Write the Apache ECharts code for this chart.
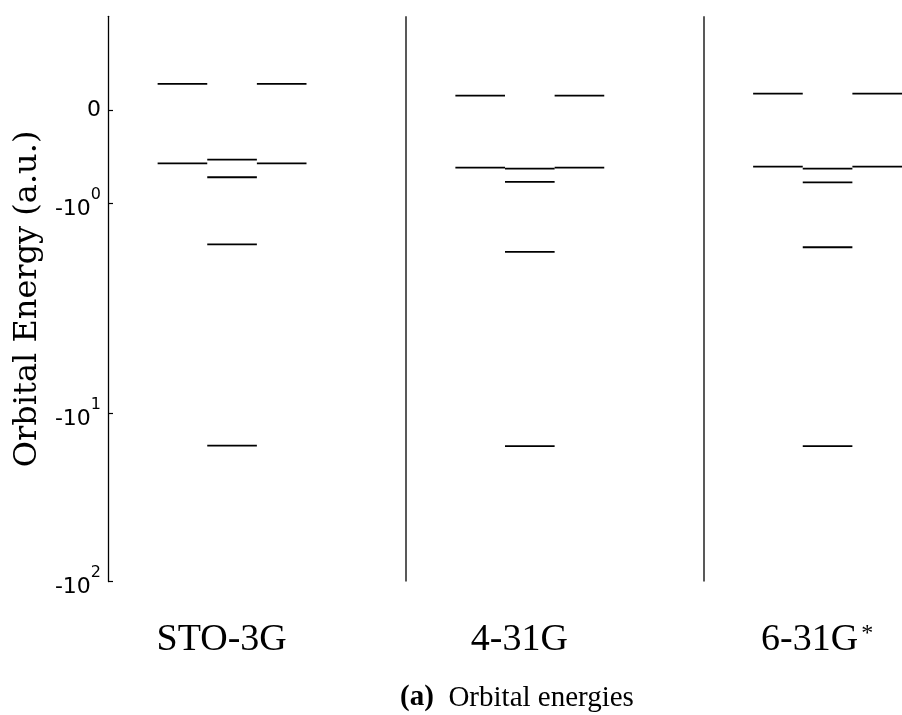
<!DOCTYPE html>
<html>
<head>
<meta charset="utf-8">
<script src="https://cdn.jsdelivr.net/npm/echarts@6/dist/echarts.min.js"></script>
<style>
  html, body { margin: 0; padding: 0; background: #fff; }
  #chart { width: 902px; height: 715px; }
</style>
</head>
<body>
<div id="chart"></div>
<script>
// Basis sets, one column each
const basisSets = ['STO-3G', '4-31G', '6-31G*'];
// Fragment orbital energies (a.u.), drawn at the left and right of each column
const fragmentLevels = [
  [0.277, -0.571],
  [0.152, -0.618],
  [0.173, -0.607]
];
// Molecular orbital energies (a.u.), drawn in the centre of each column
const moleculeLevels = [
  [-0.532, -0.720, -1.564, -15.5],
  [-0.628, -0.770, -1.701, -15.6],
  [-0.628, -0.774, -1.616, -15.6]
];
// Y tick values and their labels (base, exponent)
const yTickValues = [0, -1, -10, -100];
const yTickLabels = [['0', ''], ['-10', '0'], ['-10', '1'], ['-10', '2']];

// Symmetric log scale: linear core within |E| <= 1, then logarithmic decades
const LIN_SPAN = 0.445;          // axis units taken by 0..1
const DECADE_SPANS = [1, 0.798]; // axis units taken by 1..10 and 10..100
function toAxis(E) {
  const s = Math.sign(E), a = Math.abs(E);
  if (a <= 1) return E * LIN_SPAN;
  let u = LIN_SPAN, lo = 1;
  for (const d of DECADE_SPANS) {
    const hi = lo * 10;
    if (a <= hi) return s * (u + d * Math.log10(a / lo));
    u += d; lo = hi;
  }
  return s * u;
}

// Each column is 6 x-units wide: slots at 1-2, 2-3, 3-4; dividers at 6 and 12
const COL = 6;
const levelData = [];
basisSets.forEach((b, i) => {
  const base = i * COL;
  fragmentLevels[i].forEach(E => {
    levelData.push([base + 1, base + 2, toAxis(E)]);
    levelData.push([base + 3, base + 4, toAxis(E)]);
  });
  moleculeLevels[i].forEach(E => {
    levelData.push([base + 2, base + 3, toAxis(E)]);
  });
});

const yTickPos = yTickValues.map(toAxis);
const labelPos = basisSets.map((b, i) => i * COL + 2.29);

const chart = echarts.init(document.getElementById('chart'), null, { renderer: 'canvas' });
chart.setOption({
  animation: false,
  backgroundColor: '#fff',
  grid: { left: 108, top: 16.3, width: 797, height: 565.2, containLabel: false },
  xAxis: {
    type: 'value', min: 0, max: 16,
    axisLine: { show: false }, axisTick: { show: false }, splitLine: { show: false },
    axisLabel: {
      customValues: labelPos,
      margin: 40,
      color: '#000',
      fontFamily: 'Liberation Serif',
      fontSize: 38,
      formatter: v => {
        const i = labelPos.findIndex(p => Math.abs(p - v) < 1e-6);
        const name = basisSets[i] || '';
        return name.endsWith('*') ? name.slice(0, -1) + '{sup|*}' : name;
      },
      rich: { sup: { fontFamily: 'Liberation Serif', fontSize: 24, verticalAlign: 'top', padding: [0, 0, 14, 3] } }
    }
  },
  yAxis: {
    type: 'value',
    min: toAxis(-100), max: toAxis(1),
    name: 'Orbital Energy (a.u.)',
    nameLocation: 'middle',
    nameRotate: 90,
    nameGap: 62,
    nameTextStyle: { fontFamily: 'DejaVu Serif', fontSize: 32, color: '#000' },
    axisLine: { show: true, lineStyle: { color: '#000', width: 1.3 } },
    axisTick: { show: true, inside: true, length: 5, customValues: yTickPos, lineStyle: { color: '#000', width: 1.2 } },
    splitLine: { show: false },
    axisLabel: {
      customValues: yTickPos,
      margin: 7,
      color: '#000',
      formatter: v => {
        const i = yTickPos.findIndex(p => Math.abs(p - v) < 1e-6);
        const [b, e] = yTickLabels[i] || ['', ''];
        return e ? '{b|' + b + '}{s|' + e + '}' : '{z|' + b + '}';
      },
      rich: {
        z: { fontFamily: 'DejaVu Sans', fontSize: 22, color: '#000', lineHeight: 24 },
        b: { fontFamily: 'DejaVu Sans', fontSize: 22, color: '#000', lineHeight: 34, verticalAlign: 'bottom' },
        s: { fontFamily: 'DejaVu Sans', fontSize: 16, color: '#000', lineHeight: 34, verticalAlign: 'top' }
      }
    }
  },
  series: [{
    type: 'custom',
    coordinateSystem: 'cartesian2d',
    data: levelData,
    encode: { x: [0, 1], y: 2 },
    renderItem: (params, api) => {
      const p0 = api.coord([api.value(0), api.value(2)]);
      const p1 = api.coord([api.value(1), api.value(2)]);
      return {
        type: 'line',
        shape: { x1: p0[0], y1: p0[1], x2: p1[0], y2: p1[1] },
        style: { stroke: '#000', lineWidth: 1.8 }
      };
    },
    markLine: {
      silent: true,
      symbol: 'none',
      label: { show: false },
      lineStyle: { color: '#222', width: 1.5, type: 'solid' },
      data: [{ xAxis: COL }, { xAxis: 2 * COL }]
    }
  }],
  graphic: [{
    type: 'text',
    x: 517, y: 698,
    style: {
      text: '{b|(a)}  Orbital energies',
      align: 'center',
      verticalAlign: 'middle',
      fontFamily: 'Liberation Serif',
      fontSize: 29,
      fill: '#000',
      rich: { b: { fontFamily: 'Liberation Serif', fontSize: 29, fontWeight: 'bold', fill: '#000' } }
    }
  }]
});
</script>
</body>
</html>
